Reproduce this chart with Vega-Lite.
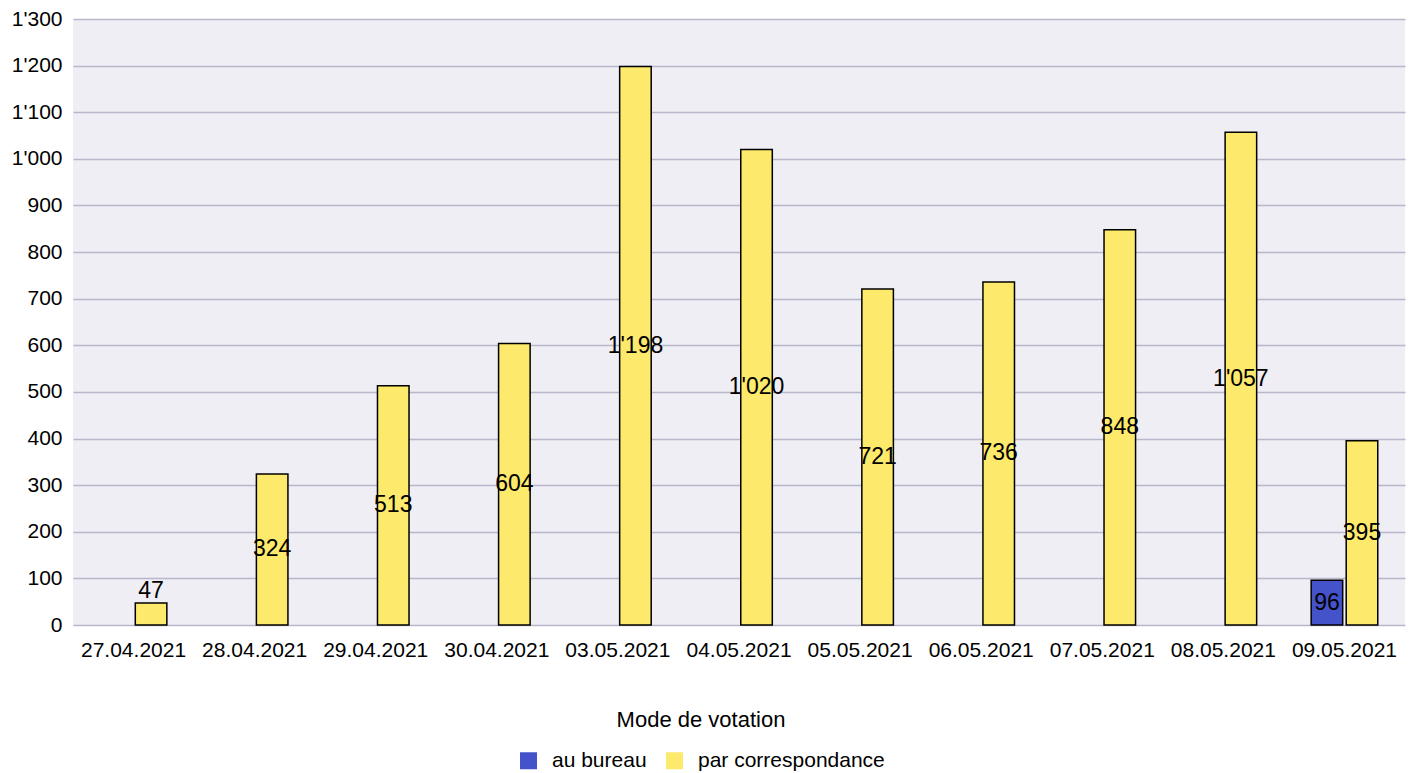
{
  "$schema": "https://vega.github.io/schema/vega-lite/v6.json",
  "width": 1332,
  "height": 606,
  "autosize": {"type": "none"},
  "padding": {"left": 73, "top": 19, "right": 6, "bottom": 148},
  "background": "white",
  "config": {
    "locale": {"number": {"decimal": ".", "thousands": "'", "grouping": [3], "currency": ["", ""]}},
    "font": "Liberation Sans",
    "view": {"fill": "#efeef4", "stroke": null},
    "axis": {"labelFont": "Liberation Sans", "labelColor": "#000", "labelFontSize": 21, "domain": false, "ticks": false}
  },
  "data": {
    "values": [
      {"date": "27.04.2021", "mode": "par correspondance", "n": 47},
      {"date": "28.04.2021", "mode": "par correspondance", "n": 324},
      {"date": "29.04.2021", "mode": "par correspondance", "n": 513},
      {"date": "30.04.2021", "mode": "par correspondance", "n": 604},
      {"date": "03.05.2021", "mode": "par correspondance", "n": 1198},
      {"date": "04.05.2021", "mode": "par correspondance", "n": 1020},
      {"date": "05.05.2021", "mode": "par correspondance", "n": 721},
      {"date": "06.05.2021", "mode": "par correspondance", "n": 736},
      {"date": "07.05.2021", "mode": "par correspondance", "n": 848},
      {"date": "08.05.2021", "mode": "par correspondance", "n": 1057},
      {"date": "09.05.2021", "mode": "au bureau", "n": 96},
      {"date": "09.05.2021", "mode": "par correspondance", "n": 395}
    ]
  },
  "encoding": {
    "x": {
      "field": "date", "type": "nominal", "sort": null, "title": null,
      "scale": {"paddingInner": 0.45, "paddingOuter": 0.225},
      "axis": {"labelAngle": 0, "labelPadding": 14, "grid": false}
    },
    "xOffset": {
      "field": "mode", "type": "nominal",
      "scale": {"domain": ["au bureau", "par correspondance"], "paddingInner": 0.1}
    }
  },
  "layer": [
    {
      "mark": {"type": "bar", "stroke": "#000", "strokeWidth": 1.5},
      "encoding": {
        "y": {
          "field": "n", "type": "quantitative", "title": null,
          "scale": {"domain": [0, 1300]},
          "axis": {"values": [0,100,200,300,400,500,600,700,800,900,1000,1100,1200,1300], "format": ",d", "gridColor": "#b8b7cc", "gridWidth": 1.5, "gridOpacity": 1, "labelPadding": 11}
        },
        "color": {
          "field": "mode", "type": "nominal",
          "scale": {"domain": ["au bureau", "par correspondance"], "range": ["#4453c9", "#fde96b"]},
          "legend": {
            "title": "Mode de votation", "orient": "none", "legendX": 445, "legendY": 691, "direction": "horizontal",
            "titleAnchor": "middle", "titleFontSize": 22, "titleFontWeight": "normal", "titleColor": "#000",
            "titlePadding": 18, "labelFontSize": 21, "labelColor": "#000", "labelLimit": 400, "symbolType": "square",
            "symbolSize": 289, "symbolStrokeWidth": 0, "symbolOpacity": 1, "columnPadding": 17, "labelOffset": 13
          }
        }
      }
    },
    {
      "transform": [{"filter": "datum.n >= 80"}, {"calculate": "datum.n / 2", "as": "mid"}],
      "mark": {"type": "text", "fontSize": 23, "color": "#000", "baseline": "middle"},
      "encoding": {
        "y": {"field": "mid", "type": "quantitative", "scale": {"domain": [0, 1300]}},
        "text": {"field": "n", "type": "quantitative", "format": ",d"}
      }
    },
    {
      "transform": [{"filter": "datum.n < 80"}],
      "mark": {"type": "text", "fontSize": 23, "color": "#000", "baseline": "bottom", "dy": 0},
      "encoding": {
        "y": {"field": "n", "type": "quantitative", "scale": {"domain": [0, 1300]}},
        "text": {"field": "n", "type": "quantitative", "format": ",d"}
      }
    }
  ]
}
